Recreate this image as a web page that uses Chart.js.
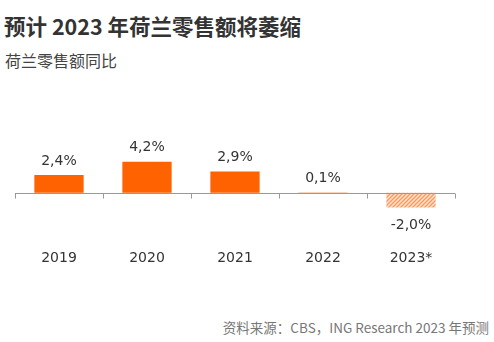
<!DOCTYPE html>
<html>
<head>
<meta charset="utf-8">
<script src="https://cdn.jsdelivr.net/npm/chart.js@4"></script>
<style>
  html, body { margin: 0; padding: 0; background: #fff; }
  body { width: 494px; height: 342px; position: relative; overflow: hidden;
         font-family: "Noto Sans CJK SC", "Noto Sans", sans-serif; color: #333; }
  #title { position: absolute; left: 4px; top: 10px; font-size: 21.5px; font-weight: bold; color: #333; }
  #subtitle { position: absolute; left: 5px; top: 48px; font-size: 16px; color: #444; }
  #source { position: absolute; right: 5px; top: 317px; font-size: 13.5px; color: #777; }
  #wrap { position: absolute; left: 0; top: 0; width: 494px; height: 342px; }
</style>
</head>
<body>
<div id="title">预计 2023 年荷兰零售额将萎缩</div>
<div id="subtitle">荷兰零售额同比</div>
<div id="source">资料来源：CBS，ING Research 2023 年预测</div>
<div id="wrap"><canvas id="retailChart" width="494" height="342"></canvas></div>
<script>
const years = ['2019', '2020', '2021', '2022', '2023*'];
const growth = [2.4, 4.2, 2.9, 0.1, -2.0];
const forecast = [false, false, false, false, true];

const orange = '#FF6200';

// diagonal stripes for the forecast year
function makeHatch() {
    const c = document.createElement('canvas');
    c.width = 4; c.height = 4;
    const g = c.getContext('2d');
    g.fillStyle = '#FDE3D0';
    g.fillRect(0, 0, 4, 4);
    g.strokeStyle = '#F59A5E';
    g.lineWidth = 1.3;
    g.beginPath();
    g.moveTo(0, 4); g.lineTo(4, 0);
    g.moveTo(-1, 1); g.lineTo(1, -1);
    g.moveTo(3, 5); g.lineTo(5, 3);
    g.stroke();
    return g.createPattern(c, 'repeat');
}

const ctx = document.getElementById('retailChart').getContext('2d');
const hatch = makeHatch();

// zero line with tick marks between the categories
const zeroLine = {
    id: 'zeroLine',
    afterDatasetsDraw(chart) {
        const { ctx, chartArea, scales } = chart;
        const y0 = Math.round(scales.y.getPixelForValue(0)) + 0.5;
        const step = scales.x.width / years.length;
        ctx.save();
        ctx.strokeStyle = '#999';
        ctx.lineWidth = 1;
        ctx.beginPath();
        ctx.moveTo(chartArea.left, y0);
        ctx.lineTo(chartArea.right, y0);
        for (let i = 0; i <= years.length; i++) {
            const px = Math.round(chartArea.left + i * step) + 0.5;
            ctx.moveTo(px, y0);
            ctx.lineTo(px, y0 + 5);
        }
        ctx.stroke();
        ctx.restore();
    }
};

// value labels above / below each bar
const valueLabels = {
    id: 'valueLabels',
    afterDatasetsDraw(chart) {
        const { ctx } = chart;
        const meta = chart.getDatasetMeta(0);
        ctx.save();
        ctx.font = '14px "DejaVu Sans", sans-serif';
        ctx.fillStyle = '#333';
        ctx.textAlign = 'center';
        ctx.textBaseline = 'middle';
        meta.data.forEach((bar, i) => {
            const v = growth[i];
            const txt = v.toFixed(1).replace('.', ',') + '%';
            const y = v >= 0 ? bar.y - 14 : bar.y + 18;
            ctx.fillText(txt, bar.x, y);
        });
        ctx.restore();
    }
};

new Chart(ctx, {
    type: 'bar',
    data: {
        labels: years,
        datasets: [{
            data: growth,
            backgroundColor: growth.map((v, i) => forecast[i] ? hatch : (v < 1 ? '#F7C9A4' : orange)),
            categoryPercentage: 0.56,
            barPercentage: 1.0
        }]
    },
    options: {
        responsive: false,
        animation: false,
        layout: { padding: { left: 15, right: 39, top: 130, bottom: 67 } },
        plugins: {
            legend: { display: false },
            tooltip: { enabled: false }
        },
        scales: {
            x: {
                grid: { display: false },
                border: { display: false },
                ticks: {
                    color: '#333',
                    font: { size: 14, family: '"DejaVu Sans", sans-serif' },
                    padding: 8
                }
            },
            y: {
                display: false,
                min: -5.6,
                max: 8.5
            }
        }
    },
    plugins: [zeroLine, valueLabels]
});
</script>
</body>
</html>
